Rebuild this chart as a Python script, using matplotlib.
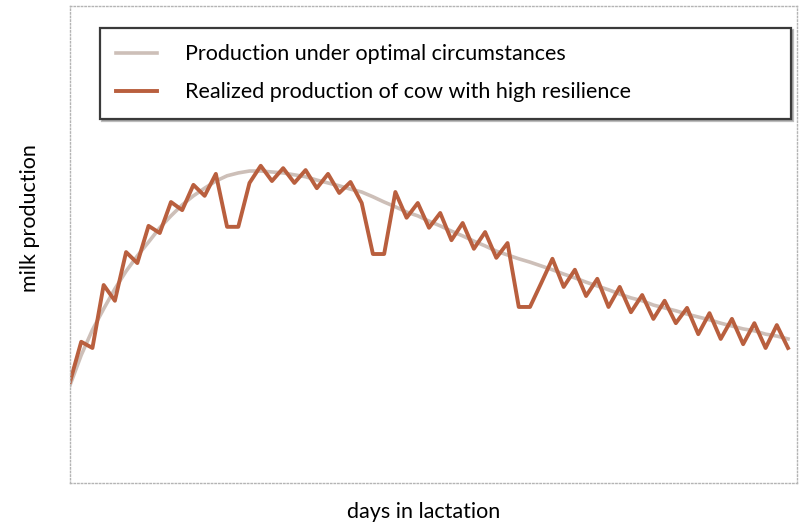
import matplotlib.pyplot as plt
import numpy as np

# days in lactation (one point per step, no tick labels shown on the chart)
days = np.arange(65)

# production under optimal circumstances (smooth lactation curve)
optimal = [20.5, 26.8, 32.1, 36.5, 40.7, 44.4, 47.6, 50.5, 53.5, 56.0,
           58.3, 60.2, 61.8, 63.3, 64.4, 65.0, 65.4, 65.4, 65.2, 65.0,
           64.6, 64.2, 63.5, 62.9, 62.3, 61.6, 61.0, 60.0, 58.9, 57.9,
           56.8, 56.0, 54.9, 53.9, 52.8, 51.8, 50.7, 49.7, 48.6, 47.8,
           47.0, 46.3, 45.5, 44.7, 43.8, 43.0, 42.1, 41.3, 40.5, 39.6,
           38.8, 38.2, 37.3, 36.7, 36.1, 35.4, 34.8, 34.2, 33.5, 32.9,
           32.3, 31.9, 31.2, 30.8, 30.2]

# realized production of a cow with high resilience
realized = [21.2, 29.6, 28.3, 41.5, 38.2, 48.4, 46.1, 53.9, 52.4, 58.9,
            57.2, 62.5, 60.2, 64.8, 53.7, 53.7, 62.9, 66.5, 63.3, 66.0,
            62.9, 65.6, 61.8, 64.8, 60.8, 63.1, 58.7, 48.0, 48.0, 61.0,
            55.6, 58.7, 53.5, 56.6, 50.9, 54.5, 49.1, 52.6, 47.2, 50.3,
            36.9, 36.9, 41.9, 47.0, 41.1, 44.7, 39.2, 42.8, 36.9, 41.1,
            35.8, 39.4, 34.4, 38.2, 33.5, 36.7, 31.2, 35.6, 30.2, 34.4,
            29.1, 33.5, 28.3, 33.1, 28.3]

labels = ['Production under optimal circumstances',
          'Realized production of cow with high resilience']

plt.rcParams['font.family'] = ['Lato', 'DejaVu Sans']

fig = plt.figure(figsize=(8, 5.29), dpi=100)
ax = fig.add_axes([0.0875, 0.087, 0.90875, 0.9017])

ax.plot(days, optimal, color='#CDBFB8', lw=2.6, label=labels[0])
ax.plot(days, realized, color='#B95F3E', lw=2.8, label=labels[1])

ax.set_xlim(0, 64.8)
ax.set_ylim(0, 100)
ax.set_xticks([])
ax.set_yticks([])
for s in ax.spines.values():
    s.set_color('#B4B4B4')
    s.set_linewidth(1.0)
    s.set_linestyle((0, (1, 1.6)))

leg = ax.legend(loc='upper left', bbox_to_anchor=(0.041, 0.954, 0.951, 0.0),
                mode='expand', fontsize=15.5, frameon=True, fancybox=False,
                borderpad=0.75, labelspacing=0.85, handlelength=1.9,
                handletextpad=1.3, borderaxespad=0,
                shadow={'ox': 1.5, 'oy': -1.5, 'color': '#909090', 'alpha': 0.6})
leg.get_frame().set_edgecolor('#3A3A3A')
leg.get_frame().set_linewidth(1.6)

fig.text(0.038, 0.588, 'milk production', rotation=90, ha='center',
         va='center', fontsize=15.5)
fig.text(0.529, 0.032, 'days in lactation', ha='center', va='center',
         fontsize=15.5)

fig.savefig('out.png', dpi=100)
